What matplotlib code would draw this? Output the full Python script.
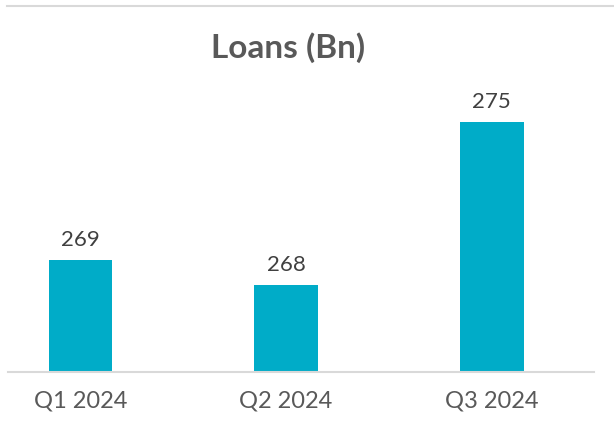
import matplotlib.pyplot as plt
from matplotlib.lines import Line2D

quarters = ["Q1 2024", "Q2 2024", "Q3 2024"]
loans = [269.0, 268.0, 274.5]   # labels shown rounded
y_floor = 264.5

plt.rcParams['font.family'] = ['Lato', 'DejaVu Sans']

fig = plt.figure(figsize=(6.14, 4.33), dpi=100)
ax = fig.add_axes([8/614, 1 - 372/433, 586/614, 366/433])

x = range(len(quarters))
bars = ax.bar(x, loans, width=0.31, color="#00ACC8", bottom=0)
ax.set_ylim(y_floor, y_floor + 366/25)
ax.set_xlim(-0.352, 2.497)

for b, v in zip(bars, loans):
    ax.annotate(f"{round(v + 0.01):.0f}", (b.get_x() + b.get_width()/2, b.get_height()),
                xytext=(0, 7), textcoords="offset points",
                ha="center", va="bottom", fontsize=16, color="#404040")

ax.set_xticks(list(x))
ax.set_xticklabels(quarters, fontsize=17, color="#595959")
ax.tick_params(axis="x", length=0, pad=13)
ax.set_yticks([])
for s in ["top", "left", "right"]:
    ax.spines[s].set_visible(False)
ax.spines["bottom"].set_color("#D9D9D9")
ax.spines["bottom"].set_linewidth(1.5)

fig.text(288/614, 1 - 48/433, "Loans (Bn)", ha="center", va="center",
         fontsize=24, fontweight="bold", color="#595959")
fig.add_artist(Line2D([7/614, 1], [1 - 6/433, 1 - 6/433], color="#D9D9D9", lw=1.5))

fig.savefig("out.png", dpi=100)
